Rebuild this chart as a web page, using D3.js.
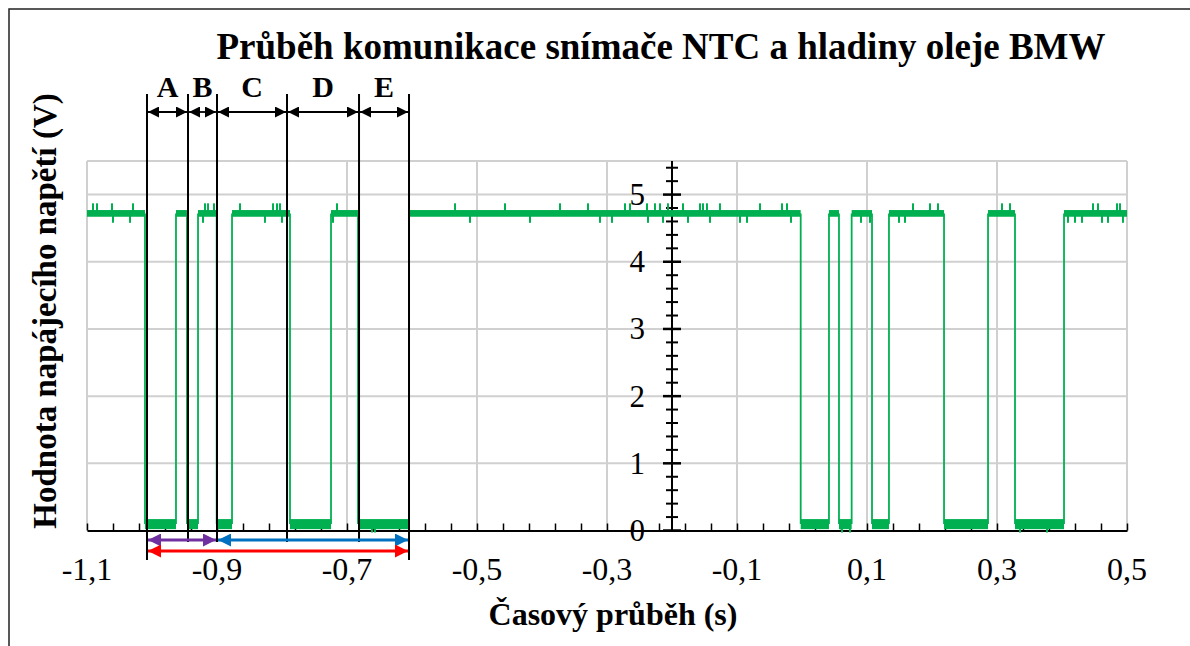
<!DOCTYPE html>
<html>
<head>
<meta charset="utf-8">
<script src="https://cdn.jsdelivr.net/npm/d3@7"></script>
<style>
  body { margin: 0; background: #fff; }
  svg { display: block; font-family: "Liberation Serif", "Times New Roman", serif; }
</style>
</head>
<body>
<svg id="canvas"></svg>
<script>
// signal edges (s) and the level of each segment between them
const edgeTimes = [-1.1, -1.0108, -0.9631, -0.9462, -0.9292, -0.9005, -0.8769, -0.7877, -0.7246, -0.6831, -0.6046,
                   -0.002, 0.0415, 0.0569, 0.0764, 0.1077, 0.1338, 0.2185, 0.2862, 0.3277, 0.4031, 0.5];
const segLevels = ["H", "L", "H", "L", "H", "L", "H", "L", "H", "L", "H", "L", "H", "L", "H", "L", "H", "L", "H", "L", "H"];
// noise band of each level (V)
const highBand = [4.67, 4.77];
const lowBand = [0.02, 0.17];
// noise spikes (s)
const highSpikesUp = [-1.0908, -1.0846, -1.0615, -1.0292, -0.9185, -0.9138, -0.9046, -0.8646, -0.8138, -0.8077, -0.8031,
                      -0.7154, -0.5338, -0.4569, -0.3723, -0.3292, -0.2723, -0.2646, -0.2385, -0.2262, -0.2185, -0.2062,
                      -0.1831, -0.1569, -0.1523, -0.1462, -0.1262, -0.0646, -0.0308, -0.0231, 0.1708, 0.1969, 0.2092,
                      0.3077, 0.32, 0.4477, 0.4554, 0.4846, 0.4892];
const highSpikesDown = [-1.06, -1.0338, -0.9215, -0.8262, -0.8, -0.7215, -0.5108, -0.4185, -0.3108, -0.2923, -0.2369,
                        -0.2138, -0.1754, -0.1415, -0.0954, -0.0846, -0.0169, 0.0908, 0.1046, 0.1492, 0.1585, 0.4092,
                        0.42, 0.4308, 0.4615, 0.4708, 0.4938];
const lowSpikesDown = [-0.6615, -0.657, 0.0615, 0.0738, 0.3354, 0.3769];
const spikeLevels = { up: 4.87, down: 4.58, low: -0.03 };

// annotation: borders of sections A..E (s)
const sectionNames = ["A", "B", "C", "D", "E"];
const sectionEdges = [-1.0077, -0.9446, -0.9, -0.7923, -0.6815, -0.6046];

const xTicks = [-1.1, -0.9, -0.7, -0.5, -0.3, -0.1, 0.1, 0.3, 0.5];
const yTicks = [0, 1, 2, 3, 4, 5];

const w = 1190, h = 646;
const green = "#00B050";
const canvas = d3.select("#canvas").attr("width", w).attr("height", h);

// outer chart frame
canvas.append("rect")
    .attr("x", 9).attr("y", 9)
    .attr("width", 1300).attr("height", 800)
    .attr("fill", "none")
    .attr("stroke", "#222")
    .attr("stroke-width", 1.5);

const x = d3.scaleLinear().domain([-1.1, 0.5]).range([87, 1127]);
const y = d3.scaleLinear().domain([0, 5.5]).range([530.5, 161]);

// gridlines
canvas.append("g").selectAll("line")
    .data(yTicks.slice(1).concat([5.5]))
    .enter().append("line")
    .attr("x1", x(-1.1)).attr("x2", x(0.5))
    .attr("y1", d => y(d)).attr("y2", d => y(d))
    .attr("stroke", "#d0d0d0").attr("stroke-width", 2);
canvas.append("g").selectAll("line")
    .data(xTicks)
    .enter().append("line")
    .attr("x1", d => x(d)).attr("x2", d => x(d))
    .attr("y1", y(5.5)).attr("y2", y(0))
    .attr("stroke", "#d0d0d0").attr("stroke-width", 2);

// x axis: minor ticks pointing up, labels below
const xMinor = d3.range(0, 41).map(i => -1.1 + i * 0.04);
const xAxisG = canvas.append("g")
    .attr("transform", "translate(0," + y(0) + ")")
    .call(d3.axisTop(x).tickValues(xMinor).tickSize(7).tickFormat("").tickSizeOuter(0));
xAxisG.select(".domain").attr("stroke", "#000").attr("stroke-width", 2);
xAxisG.selectAll(".tick line").attr("stroke", "#000").attr("stroke-width", 1.5);

canvas.append("g").selectAll("text")
    .data(xTicks)
    .enter().append("text")
    .attr("x", d => x(d))
    .attr("y", 580)
    .attr("text-anchor", "middle")
    .style("font-size", "32px")
    .text(d => d.toFixed(1).replace(".", ","));

// y axis crossing at -0,2 s
const yAxisX = x(-0.2);
const yMinor = d3.range(0, 28).map(i => +(i * 0.2).toFixed(1));
const yAxisG = canvas.append("g");
yAxisG.append("line")
    .attr("x1", yAxisX).attr("x2", yAxisX)
    .attr("y1", y(0)).attr("y2", y(5.5))
    .attr("stroke", "#000").attr("stroke-width", 2);
yAxisG.selectAll("line.minor")
    .data(yMinor)
    .enter().append("line")
    .attr("class", "minor")
    .attr("x1", d => yAxisX - (Number.isInteger(d) ? 9 : 6))
    .attr("x2", d => yAxisX + (Number.isInteger(d) ? 9 : 6))
    .attr("y1", d => y(d)).attr("y2", d => y(d))
    .attr("stroke", "#000")
    .attr("stroke-width", d => Number.isInteger(d) ? 2.5 : 2);
yAxisG.selectAll("text")
    .data(yTicks)
    .enter().append("text")
    .attr("x", yAxisX - 27)
    .attr("y", d => y(d) + 10.5)
    .attr("text-anchor", "end")
    .style("font-size", "31px")
    .text(d => d);

// signal: level bands, edges and spikes
const bandOf = l => l === "H" ? highBand : lowBand;
const segs = segLevels.map((l, i) => ({ t0: edgeTimes[i], t1: edgeTimes[i + 1], band: bandOf(l) }));

const sig = canvas.append("g");
sig.selectAll("line.edge")
    .data(edgeTimes.slice(1, -1))
    .enter().append("line")
    .attr("class", "edge")
    .attr("x1", d => x(d)).attr("x2", d => x(d))
    .attr("y1", y(d3.mean(lowBand))).attr("y2", y(d3.mean(highBand)))
    .attr("stroke", green).attr("stroke-width", 1.8);
sig.selectAll("rect")
    .data(segs)
    .enter().append("rect")
    .attr("x", d => x(d.t0))
    .attr("width", d => x(d.t1) - x(d.t0))
    .attr("y", d => y(d.band[1]))
    .attr("height", d => y(d.band[0]) - y(d.band[1]))
    .attr("fill", green);

const spikes = highSpikesUp.map(t => ({ t: t, v0: d3.mean(highBand), v1: spikeLevels.up }))
    .concat(highSpikesDown.map(t => ({ t: t, v0: d3.mean(highBand), v1: spikeLevels.down })))
    .concat(lowSpikesDown.map(t => ({ t: t, v0: d3.mean(lowBand), v1: spikeLevels.low })));
sig.selectAll("line.spike")
    .data(spikes)
    .enter().append("line")
    .attr("class", "spike")
    .attr("x1", d => x(d.t)).attr("x2", d => x(d.t))
    .attr("y1", d => y(d.v0)).attr("y2", d => y(d.v1))
    .attr("stroke", green).attr("stroke-width", 2);

// arrowheads
const defs = canvas.append("defs");
function marker(id, color, size) {
    defs.append("marker")
        .attr("id", id)
        .attr("viewBox", "0 0 10 10")
        .attr("refX", 10).attr("refY", 5)
        .attr("markerUnits", "userSpaceOnUse")
        .attr("markerWidth", size).attr("markerHeight", size)
        .attr("orient", "auto-start-reverse")
        .append("path")
        .attr("d", "M0,0 L10,5 L0,10 Z")
        .attr("fill", color);
}
marker("ah-black", "#000", 11);
marker("ah-purple", "#7030A0", 13);
marker("ah-blue", "#0070C0", 13);
marker("ah-red", "#FF0000", 13);

// section border lines
const ann = canvas.append("g");
ann.selectAll("line.border")
    .data(sectionEdges)
    .enter().append("line")
    .attr("class", "border")
    .attr("x1", d => x(d)).attr("x2", d => x(d))
    .attr("y1", 94)
    .attr("y2", (d, i) => (i === 0 || i === sectionEdges.length - 1) ? 560 : 542)
    .attr("stroke", "#000").attr("stroke-width", 2);

const sections = sectionNames.map((n, i) => ({ name: n, t0: sectionEdges[i], t1: sectionEdges[i + 1] }));
ann.selectAll("line.arrow")
    .data(sections)
    .enter().append("line")
    .attr("class", "arrow")
    .attr("x1", d => x(d.t0) + 1).attr("x2", d => x(d.t1) - 1)
    .attr("y1", 112).attr("y2", 112)
    .attr("stroke", "#000").attr("stroke-width", 1.8)
    .attr("marker-start", "url(#ah-black)")
    .attr("marker-end", "url(#ah-black)");
ann.selectAll("text")
    .data(sections)
    .enter().append("text")
    .attr("x", d => (x(d.t0) + x(d.t1)) / 2)
    .attr("y", 97)
    .attr("text-anchor", "middle")
    .style("font-size", "30px")
    .style("font-weight", "bold")
    .text(d => d.name);

// coloured spans under the axis
const spans = [
    { t0: sectionEdges[0], t1: sectionEdges[2], yPos: 540, color: "#7030A0", id: "ah-purple" },
    { t0: sectionEdges[2], t1: sectionEdges[5], yPos: 540, color: "#0070C0", id: "ah-blue" },
    { t0: sectionEdges[0], t1: sectionEdges[5], yPos: 551, color: "#FF0000", id: "ah-red" }
];
ann.selectAll("line.span")
    .data(spans)
    .enter().append("line")
    .attr("class", "span")
    .attr("x1", d => x(d.t0) + 1).attr("x2", d => x(d.t1) - 1)
    .attr("y1", d => d.yPos).attr("y2", d => d.yPos)
    .attr("stroke", d => d.color).attr("stroke-width", 3)
    .attr("marker-start", d => "url(#" + d.id + ")")
    .attr("marker-end", d => "url(#" + d.id + ")");

// titles
canvas.append("text")
    .attr("x", 661).attr("y", 59)
    .attr("text-anchor", "middle")
    .style("font-size", "37px").style("font-weight", "bold")
    .text("Průběh komunikace snímače NTC a hladiny oleje BMW");
canvas.append("text")
    .attr("x", 613).attr("y", 625)
    .attr("text-anchor", "middle")
    .style("font-size", "32px").style("font-weight", "bold")
    .text("Časový průběh (s)");
canvas.append("text")
    .attr("transform", "translate(56,311) rotate(-90)")
    .attr("text-anchor", "middle")
    .style("font-size", "33px").style("font-weight", "bold")
    .text("Hodnota napájecího napětí (V)");
</script>
</body>
</html>
